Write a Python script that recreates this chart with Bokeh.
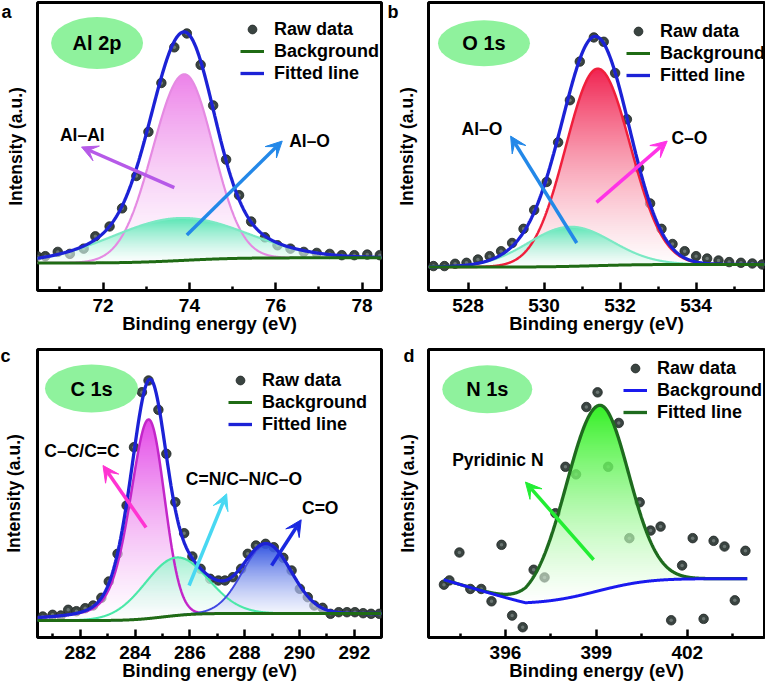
import math
import numpy as np
from bokeh.plotting import figure
from bokeh.models import Range1d, FixedTicker, Label, Arrow, VeeHead, Legend, LegendItem
from bokeh.layouts import gridplot
from bokeh.embed import file_html
from bokeh.resources import INLINE

FONT = "Liberation Sans"

# ---------------- Panel a : Al 2p ----------------
a_energy = [70.47, 70.66, 70.95, 71.23, 71.55, 71.82, 72.15, 72.44, 72.77, 73.05, 73.35, 73.65,
            73.94, 74.26, 74.55, 74.85, 75.15, 75.43, 75.75, 76.04, 76.34, 76.65, 76.95, 77.25,
            77.53, 77.82, 78.12, 78.41]
a_counts = [34.7, 34.7, 39.0, 37.0, 42.3, 54.7, 64.7, 83.0, 115.7, 160.3, 209.7, 245.7,
            259.7, 228.0, 187.0, 132.3, 96.3, 69.7, 53.7, 45.7, 42.3, 39.0, 38.0, 37.0,
            35.7, 35.7, 36.3, 35.7]
a_peak_names = ["Al–Al", "Al–O"]
a_centers = [73.88, 73.73]
a_heights = [188, 43]
a_sig_left = [0.73, 1.55]
a_sig_right = [0.67, 1.55]
a_lor_left = [0.0, 0.0]
a_lor_right = [0.0, 0.0]
a_bg_knots_x = [70.45, 78.45]
a_bg_knots_y = [27.8, 27.8]
a_bg_step = [5.2, 73.85, 1.0]

# ---------------- Panel b : O 1s ----------------
b_energy = [527.09, 527.38, 527.66, 527.96, 528.26, 528.57, 528.87, 529.16, 529.46, 529.74,
            530.07, 530.37, 530.68, 530.94, 531.31, 531.57, 531.87, 532.18, 532.50, 532.79,
            533.09, 533.38, 533.70, 534.00, 534.29, 534.59, 534.87, 535.18, 535.48, 535.74]
b_counts = [24.7, 24.7, 27.0, 28.0, 31.3, 34.7, 39.7, 48.0, 62.3, 81.3,
            109.7, 149.7, 192.3, 231.3, 255.7, 251.3, 219.7, 173.0, 123.7, 88.0,
            62.3, 47.0, 39.7, 34.7, 32.3, 30.3, 28.7, 28.0, 27.3, 26.3]
b_peak_names = ["C–O", "Al–O"]
b_centers = [531.41, 530.68]
b_heights = [199, 40]
b_sig_left = [0.84, 1.1]
b_sig_right = [0.86, 1.1]
b_lor_left = [0.0, 0.0]
b_lor_right = [0.0, 0.0]
b_bg_knots_x = [526.96, 535.83]
b_bg_knots_y = [23.7, 23.7]
b_bg_step = [2.6, 531.3, 1.0]

# ---------------- Panel c : C 1s ----------------
c_energy = [280.63, 280.99, 281.29, 281.56, 281.86, 282.18, 282.47, 282.77, 283.04, 283.36,
            283.69, 283.96, 284.25, 284.49, 284.85, 285.14, 285.47, 285.79, 286.09, 286.39,
            286.74, 287.04, 287.28, 287.57, 287.87, 288.11, 288.41, 288.76, 289.06, 289.41,
            289.71, 290.01, 290.30, 290.54, 290.84, 291.13, 291.43, 291.73, 292.02, 292.32,
            292.61, 292.91]
c_counts = [21.0, 22.7, 22.0, 27.7, 26.3, 29.3, 32.0, 39.7, 56.0, 83.7,
            132.0, 190.3, 245.3, 257.0, 227.7, 183.7, 135.3, 104.3, 81.0, 68.7,
            58.7, 57.0, 57.0, 60.3, 68.7, 83.7, 92.0, 93.7, 90.3, 79.7,
            67.0, 48.7, 40.3, 32.0, 29.7, 23.7, 25.3, 25.3, 25.3, 24.3,
            23.7, 23.7]
c_peak_names = ["C–C/C=C", "C=N/C–N/C–O", "C=O"]
c_centers = [284.49, 285.5, 288.8]
c_heights = [199, 58, 69]
c_sig_left = [0.68, 1.15, 0.88]
c_sig_right = [0.58, 1.15, 0.90]
c_lor_left = [0.4, 0.0, 0.0]
c_lor_right = [0.0, 0.0, 0.0]
c_bg_knots_x = [280.44, 292.97]
c_bg_knots_y = [17.0, 17.0]
c_bg_step = [7.0, 285.0, 0.9]

# ---------------- Panel d : N 1s ----------------
d_energy = [393.97, 394.15, 394.48, 394.84, 395.20, 395.54, 395.87, 396.22, 396.57, 396.93,
            397.29, 397.65, 397.98, 398.33, 398.67, 399.04, 399.39, 399.74, 400.09, 400.43,
            400.79, 401.12, 401.47, 401.83, 402.18, 402.54, 402.87, 403.23, 403.57, 403.92]
d_counts = [53.0, 57.3, 85.3, 48.7, 48.7, 36.3, 93.0, 22.0, 10.3, 68.0,
            60.3, 124.7, 171.3, 163.7, 231.3, 246.0, 171.3, 215.3, 99.7, 135.7,
            107.3, 111.3, 17.3, 72.3, 99.7, 18.7, 97.0, 91.3, 37.3, 87.0]
d_peak_names = ["Pyridinic N"]
d_centers = [399.08]
d_heights = [186]
d_sig_left = [1.08]
d_sig_right = [0.97]
d_lor_left = [0.0]
d_lor_right = [0.0]
d_bg_knots_x = [393.96, 396.66, 404.0]
d_bg_knots_y = [58.0, 34.0, 34.0]
d_bg_step = [25.0, 399.03, 1.31]

_erf = np.vectorize(math.erf)


def background(x, kx, ky, step):
    amp, cen, wid = step
    return np.interp(x, kx, ky) + amp * 0.5 * (1 + _erf((x - cen) / (wid * math.sqrt(2))))


def peak(x, c, h, sl, sr, ml, mr):
    left = x < c
    s = np.where(left, sl, sr)
    m = np.where(left, ml, mr)
    d = (x - c) / s
    return h * ((1 - m) * np.exp(-0.5 * d * d) + m / (1 + (d / 1.1774) ** 2))


def hex_rgb(h):
    return np.array([int(h[i:i + 2], 16) for i in (1, 3, 5)], dtype=float)


def gradient_fill(p, xs, base, top, color, xr, yr, nx=700, ny=580):
    x0, x1 = xr
    y0, y1 = yr
    gx = x0 + (np.arange(nx) + 0.5) * (x1 - x0) / nx
    gy = y0 + (np.arange(ny) + 0.5) * (y1 - y0) / ny
    b = np.interp(gx, xs, base, left=np.nan, right=np.nan)
    t = np.interp(gx, xs, top, left=np.nan, right=np.nan)
    Y = gy[:, None]
    with np.errstate(invalid="ignore"):
        inside = (Y >= b[None, :]) & (Y <= t[None, :])
    lo, hi = np.nanmin(base), np.nanmax(top)
    f = np.clip((Y - lo) / (hi - lo), 0, 1)
    c = hex_rgb(color)
    rgb = 255 * (1 - f[..., None]) + c[None, None, :] * f[..., None]
    alpha = (0.55 + 0.4 * f) * inside
    img = np.zeros((ny, nx, 4), dtype=np.uint8)
    img[..., :3] = np.clip(rgb, 0, 255).astype(np.uint8)
    img[..., 3] = np.clip(alpha * 255, 0, 255).astype(np.uint8)
    p.image_rgba(image=[img.view(dtype=np.uint32).reshape((ny, nx))],
                 x=x0, y=y0, dw=x1 - x0, dh=y1 - y0)


def make_panel(letter, size, borders, xr, yr, major, minor, energy, counts,
               peaks, bg_kx, bg_ky, bg_step, fit_dom, fit_color, bg_color,
               comp_styles, ellipse, ell_text, legend_xy, annots, letter_pos,
               ylab_standoff):
    W, H = size
    bl, br, bt, bb = borders
    p = figure(width=W, height=H, x_range=Range1d(*xr), y_range=Range1d(*yr),
               output_backend="svg", toolbar_location=None, title=letter,
               min_border_left=bl, min_border_right=br, min_border_top=bt,
               min_border_bottom=bb, background_fill_color="white",
               border_fill_color="white")
    # panel letter (drawn in the title panel, pulled down beside the frame)
    p.title.align = "left"
    p.title.offset = letter_pos[0]
    p.title.standoff = letter_pos[1]
    p.title.text_font = FONT
    p.title.text_font_style = "bold"
    p.title.text_font_size = "18px"
    p.title.text_color = "black"

    p.grid.visible = False
    p.outline_line_color = "black"
    p.outline_line_width = 3

    xa = p.xaxis[0]
    xa.ticker = FixedTicker(ticks=major, minor_ticks=minor)
    xa.axis_label = "Binding energy (eV)"
    xa.axis_line_color = None
    xa.major_tick_in = 8
    xa.major_tick_out = 0
    xa.minor_tick_in = 4
    xa.minor_tick_out = 0
    xa.major_tick_line_width = 2.5
    xa.minor_tick_line_width = 2.5
    xa.major_tick_line_color = "black"
    xa.minor_tick_line_color = "black"
    xa.major_label_text_font = FONT
    xa.major_label_text_font_style = "bold"
    xa.major_label_text_font_size = "19px"
    xa.major_label_text_color = "black"
    xa.major_label_standoff = 8
    xa.axis_label_text_font = FONT
    xa.axis_label_text_font_style = "bold"
    xa.axis_label_text_font_size = "18.5px"
    xa.axis_label_text_color = "black"
    xa.axis_label_standoff = -2

    ya = p.yaxis[0]
    ya.ticker = FixedTicker(ticks=[], minor_ticks=[])
    ya.axis_label = "Intensity (a.u.)"
    ya.axis_line_color = None
    ya.major_tick_line_color = None
    ya.minor_tick_line_color = None
    ya.major_label_standoff = 0
    ya.axis_label_standoff = ylab_standoff
    ya.axis_label_text_font = FONT
    ya.axis_label_text_font_style = "bold"
    ya.axis_label_text_font_size = "17.5px"
    ya.axis_label_text_color = "black"

    xs = np.linspace(fit_dom[0], fit_dom[1], 900)
    bg = background(xs, bg_kx, bg_ky, bg_step)
    comps = [peak(xs, *pk) for pk in peaks]
    fit = bg + sum(comps)

    # raw data points
    pts = p.scatter(energy, counts, size=9.5, fill_color="#3a4441",
                    line_color="#1f2625", line_width=0.8)
    p.scatter(energy, counts, size=3.5, fill_color="#7f8a87", line_color=None,
              fill_alpha=0.7)

    # gradient fills of components
    for comp, (lc, fc, lw) in zip(comps, comp_styles):
        if fc is not None:
            gradient_fill(p, xs, bg, bg + comp, fc, xr, yr)
    # component lines
    for comp, (lc, fc, lw) in zip(comps, comp_styles):
        if lc is not None:
            p.line(xs, bg + comp, line_color=lc, line_width=lw)
    fit_r = p.line(xs, fit, line_color=fit_color, line_width=3.3)
    bg_r = p.line(xs, bg, line_color=bg_color, line_width=3)

    legend = Legend(items=[LegendItem(label="Raw data", renderers=[pts]),
                           LegendItem(label="Background", renderers=[bg_r]),
                           LegendItem(label="Fitted line", renderers=[fit_r])],
                    location=legend_xy, glyph_width=24, glyph_height=22,
                    label_height=22, label_standoff=10, spacing=0, padding=0,
                    margin=0, border_line_color=None, background_fill_alpha=0,
                    label_text_font=FONT, label_text_font_style="bold",
                    label_text_font_size="18px", label_text_color="black")
    p.add_layout(legend)

    ex, ey, ew, eh = ellipse
    p.ellipse(x=[ex], y=[ey], width=ew, height=eh, width_units="screen",
              height_units="screen", fill_color="#8ff29d", line_color=None)
    p.add_layout(Label(x=ex, y=ey, text=ell_text, text_align="center",
                       text_baseline="middle", text_font=FONT,
                       text_font_style="bold", text_font_size="20px",
                       text_color="black"))

    for (txt, lx, ly, x0, y0, x1, y1, col) in annots:
        p.add_layout(Arrow(end=VeeHead(size=16, fill_color=col, line_color=col),
                           x_start=x0, y_start=y0, x_end=x1, y_end=y1,
                           line_color=col, line_width=3.5))
        p.add_layout(Label(x=lx, y=ly, text=txt, text_align="left",
                           text_baseline="middle", text_font=FONT,
                           text_font_style="bold", text_font_size="17.5px",
                           text_color="black"))
    return p


def pk_list(cs, hs, sl, sr, ml, mr):
    return list(zip(cs, hs, sl, sr, ml, mr))


BLUE_FIT = "#1c22d6"
GREEN_BG = "#1f6b14"

pa = make_panel(
    "a", (387, 336), (30, 6, 2, 43), (70.48, 78.45), (0, 291),
    [72, 74, 76, 78], [71, 73, 75, 77], a_energy, a_counts,
    pk_list(a_centers, a_heights, a_sig_left, a_sig_right, a_lor_left, a_lor_right),
    a_bg_knots_x, a_bg_knots_y, a_bg_step, (70.45, 78.45), BLUE_FIT, GREEN_BG,
    [("#e58ae2", "#ec7ce8", 2.2), ("#7be9c4", "#4fe6b0", 2.2)],
    (71.86, 250, 92, 52), "Al 2p", (203, 206),
    [(a_peak_names[0], 71.0, 157, 73.65, 104, 71.5, 145, "#b65ae8"),
     (a_peak_names[1], 76.31, 151, 73.94, 56, 76.15, 151, "#2388e8")],
    (-36, -38), 12)

pb = make_panel(
    "b", (378, 336), (38, 1, 2, 43), (526.96, 535.80), (0, 291),
    [528, 530, 532, 534], [529, 531, 533, 535], b_energy, b_counts,
    pk_list(b_centers, b_heights, b_sig_left, b_sig_right, b_lor_left, b_lor_right),
    b_bg_knots_x, b_bg_knots_y, b_bg_step, (526.96, 535.83), BLUE_FIT, GREEN_BG,
    [("#f01f3c", "#f01848", 2.5), ("#7be9c4", "#55e7b5", 2.2)],
    (528.42, 249.7, 92, 46), "O 1s", (198, 204),
    [(b_peak_names[1], 527.83, 163, 530.86, 48, 529.12, 156, "#2388e8"),
     (b_peak_names[0], 533.35, 154, 531.38, 89, 533.24, 151, "#ff33e6")],
    (-41, -38), 12)

pc = make_panel(
    "c", (387, 351), (33, 2, 13, 50), (280.44, 292.99), (0, 288),
    [282, 284, 286, 288, 290, 292], [281, 283, 285, 287, 289, 291, 293],
    c_energy, c_counts,
    pk_list(c_centers, c_heights, c_sig_left, c_sig_right, c_lor_left, c_lor_right),
    c_bg_knots_x, c_bg_knots_y, c_bg_step, (280.44, 292.99), BLUE_FIT, GREEN_BG,
    [("#c326c9", "#e23fe6", 2.5), ("#4ae8a8", "#9ff0d0", 2.2), ("#3f47e2", "#2a4ee0", 2.0)],
    (282.41, 249, 93, 48), "C 1s", (191, 202),
    [(c_peak_names[0], 280.69, 187, 284.40, 110, 282.83, 172, "#ff33d2"),
     (c_peak_names[1], 285.85, 158.7, 285.97, 52, 287.34, 143.7, "#48d8f2"),
     (c_peak_names[2], 290.09, 129.7, 288.98, 72, 290.06, 117.7, "#1a28e0")],
    (-37, -33), 14)

pd_ = make_panel(
    "d", (378, 351), (41, 1, 13, 49), (393.46, 404.55), (0, 289),
    [396, 399, 402], [394.5, 397.5, 400.5, 403.5], d_energy, d_counts,
    pk_list(d_centers, d_heights, d_sig_left, d_sig_right, d_lor_left, d_lor_right),
    d_bg_knots_x, d_bg_knots_y, d_bg_step, (393.96, 403.98), "#1e6b1e", "#1a1aee",
    [(None, "#2af01a", 2.0)],
    (395.40, 249, 90, 48), "N 1s", (195, 214),
    [(d_peak_names[0], 394.24, 178, 398.91, 78, 396.66, 156, "#22ee33")],
    (-25, -33), 11)

grid = gridplot([[pa, pb], [pc, pd_]], toolbar_location=None)
open("out.html", "w").write(file_html(grid, INLINE))
